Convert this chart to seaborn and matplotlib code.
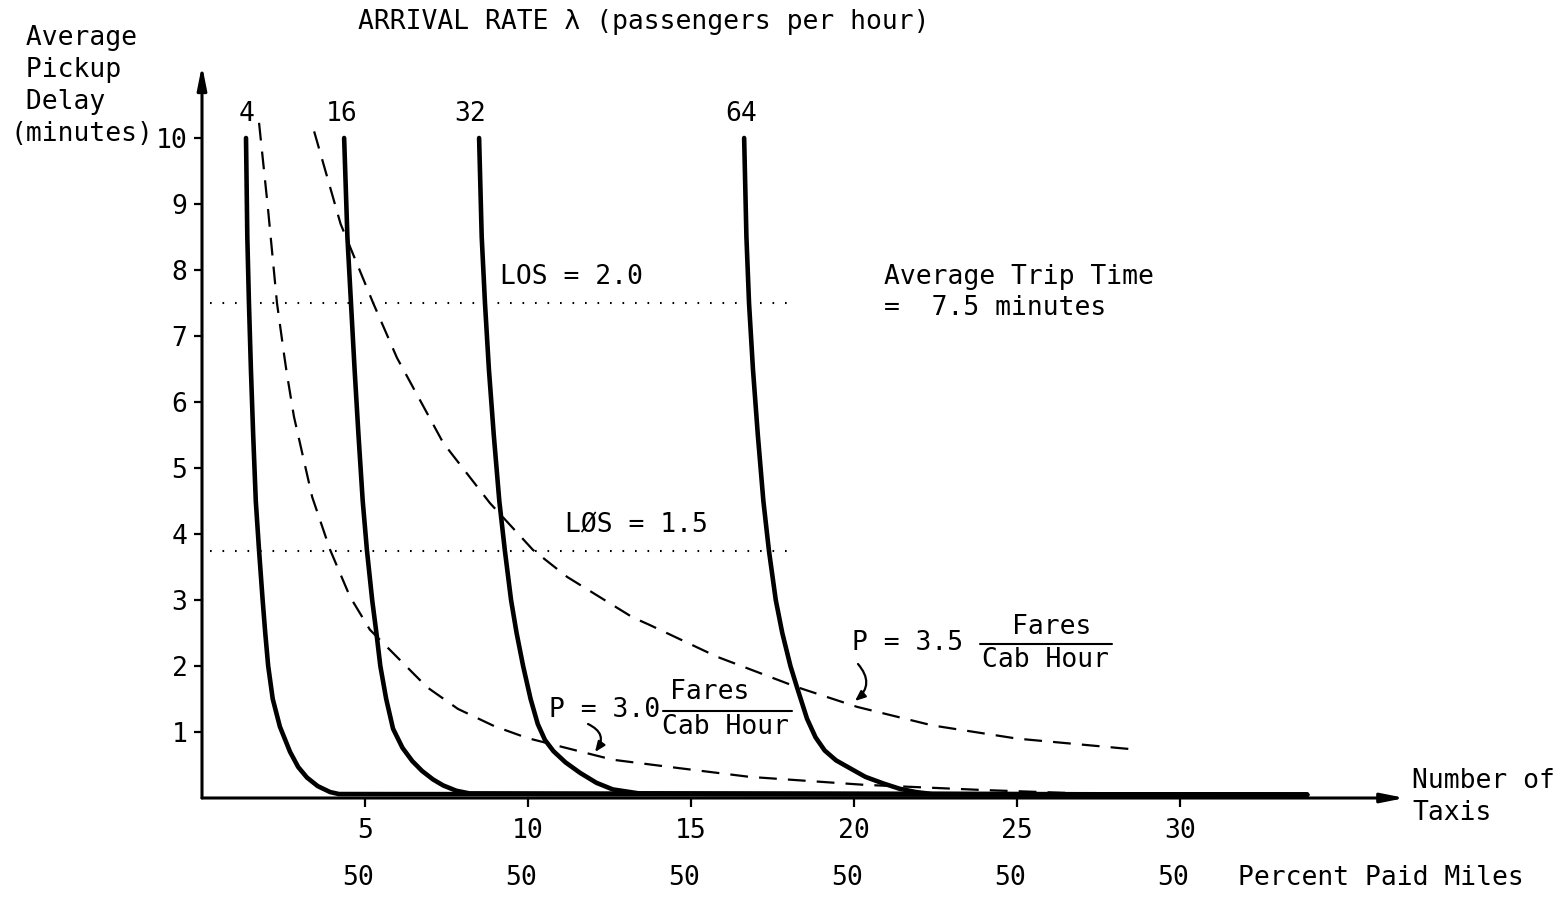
import matplotlib
matplotlib.use("Agg")
import matplotlib.pyplot as plt
import numpy as np
import pandas as pd
import seaborn as sns

# ---------------- data ----------------
arrival_rates = ["4", "16", "32", "64"]

taxis_4 = [1.35, 1.39, 1.44, 1.50, 1.57, 1.65, 1.75, 1.86, 1.94, 2.03, 2.17, 2.39,
           2.70, 2.95, 3.22, 3.55, 3.93, 4.20, 33.9]
delay_4 = [10.0, 8.50, 7.50, 6.50, 5.50, 4.50, 3.75, 3.00, 2.50, 2.00, 1.50, 1.08,
           0.70, 0.47, 0.31, 0.18, 0.09, 0.06, 0.05]

taxis_16 = [4.36, 4.46, 4.57, 4.68, 4.80, 4.93, 5.06, 5.22, 5.35, 5.47, 5.65, 5.86,
            6.15, 6.45, 6.75, 7.09, 7.40, 7.80, 8.20, 33.9]
delay_16 = [10.0, 8.50, 7.50, 6.50, 5.50, 4.50, 3.75, 3.00, 2.50, 2.00, 1.50, 1.05,
            0.76, 0.56, 0.41, 0.28, 0.19, 0.11, 0.07, 0.05]

taxis_32 = [8.50, 8.58, 8.68, 8.80, 8.95, 9.12, 9.29, 9.48, 9.65, 9.85, 10.08, 10.30,
            10.52, 10.78, 11.15, 11.60, 12.10, 12.60, 13.40, 33.9]
delay_32 = [10.0, 8.50, 7.50, 6.50, 5.50, 4.50, 3.75, 3.00, 2.50, 2.00, 1.50, 1.12,
            0.88, 0.71, 0.54, 0.38, 0.23, 0.13, 0.07, 0.05]

taxis_64 = [16.63, 16.70, 16.78, 16.90, 17.05, 17.22, 17.39, 17.60, 17.80, 18.05,
            18.25, 18.56, 18.82, 19.10, 19.45, 19.88, 20.35, 20.90, 21.40, 21.90,
            22.40, 33.9]
delay_64 = [10.0, 8.50, 7.50, 6.50, 5.50, 4.50, 3.75, 3.00, 2.50, 2.00,
            1.68, 1.20, 0.92, 0.72, 0.57, 0.45, 0.32, 0.22, 0.14, 0.09,
            0.06, 0.05]

# constant-productivity curves (P in fares per cab hour)
taxis_p30 = [1.75, 2.02, 2.30, 2.52, 2.60, 2.82, 3.38, 3.93, 4.54, 5.15, 5.37, 6.90,
             7.85, 8.96, 9.97, 10.6, 12.6, 14.35, 16.8, 20.3, 24.0, 27.5]
delay_p30 = [10.23, 8.95, 7.50, 6.71, 6.44, 5.78, 4.56, 3.76, 3.05, 2.55, 2.44, 1.68,
             1.35, 1.09, 0.91, 0.83, 0.58, 0.47, 0.32, 0.20, 0.12, 0.06]

taxis_p35 = [3.44, 4.25, 5.25, 5.98, 6.30, 7.40, 8.83, 10.15, 11.2, 13.2, 13.74, 15.8,
             18.25, 20.1, 22.4, 25.0, 28.5]
delay_p35 = [10.10, 8.70, 7.50, 6.67, 6.38, 5.38, 4.47, 3.76, 3.35, 2.74, 2.62, 2.14,
             1.68, 1.38, 1.10, 0.90, 0.74]

# level-of-service lines
los_labels = ["LOS = 2.0", "LØS = 1.5"]
los_delay = [7.5, 3.75]
los_taxis_range = [0.25, 17.95]

x_ticks = [5, 10, 15, 20, 25, 30]
y_ticks = [1, 2, 3, 4, 5, 6, 7, 8, 9, 10]
percent_paid = [50, 50, 50, 50, 50, 50]

# ---------------- style ----------------
sns.set_style("white")
plt.rcParams["font.family"] = ["DejaVu Sans Mono", "DejaVu Sans"]
plt.rcParams["text.color"] = "black"
plt.rcParams["xtick.color"] = "black"
plt.rcParams["ytick.color"] = "black"
plt.rcParams["axes.labelcolor"] = "black"
FS = 19

W, H = 1564, 897
fig = plt.figure(figsize=(W / 100, H / 100), dpi=100)
fig.patch.set_facecolor("white")

# axes: x=0 at px 202, y=0 at px 798 ; 32.6 px / taxi, 66 px / minute
x0, y0, sx, sy = 202, 798, 32.6, 66.0
xmax, ymax = 36.9, 11.1
ax = fig.add_axes([x0 / W, (H - y0) / H, xmax * sx / W, ymax * sy / H])
ax.set_xlim(0, xmax)
ax.set_ylim(0, ymax)
for s in ax.spines.values():
    s.set_visible(False)

# solid curves (arrival rates)
solid = pd.concat([
    pd.DataFrame({"taxis": taxis_4, "delay": delay_4, "rate": "4"}),
    pd.DataFrame({"taxis": taxis_16, "delay": delay_16, "rate": "16"}),
    pd.DataFrame({"taxis": taxis_32, "delay": delay_32, "rate": "32"}),
    pd.DataFrame({"taxis": taxis_64, "delay": delay_64, "rate": "64"}),
])
sns.lineplot(data=solid, x="taxis", y="delay", units="rate", estimator=None,
             sort=False, color="black", lw=3.3, ax=ax, legend=False, clip_on=False)

# dashed productivity curves
for tx, dl in [(taxis_p30, delay_p30), (taxis_p35, delay_p35)]:
    sns.lineplot(x=tx, y=dl, sort=False, estimator=None, color="black", lw=1.6,
                 linestyle=(0, (8, 5)), ax=ax, legend=False, clip_on=False)

# dotted LOS lines
ax.hlines(los_delay, los_taxis_range[0], los_taxis_range[1], colors="black",
          linestyles=[(0, (0.8, 5.2))], lw=1.5)

# axes arrows
arrow_kw = dict(arrowstyle="-|>,head_length=1.4,head_width=0.28", color="black",
                shrinkA=0, shrinkB=0)
ax.annotate("", xy=(1, 0), xytext=(0, 0), xycoords="axes fraction",
            textcoords="axes fraction", arrowprops=dict(lw=2.2, **arrow_kw))
ax.annotate("", xy=(0, 1), xytext=(0, 0), xycoords="axes fraction",
            textcoords="axes fraction", arrowprops=dict(lw=2.2, **arrow_kw))

# ticks
ax.set_xticks(x_ticks)
ax.set_xticklabels([str(v) for v in x_ticks])
ax.set_yticks(y_ticks)
ax.set_yticklabels([str(v) for v in y_ticks])
ax.tick_params(axis="x", bottom=True, direction="out", length=6.5, width=1.6,
               pad=8, labelsize=FS, colors="black")
ax.tick_params(axis="y", left=True, direction="out", length=5.5, width=1.6,
               pad=5, labelsize=FS, colors="black")
ax.set_xlabel("")
ax.set_ylabel("")


def px(xp, yp):
    """pixel position in the image -> data coordinates (for annotation layout)"""
    return (xp - x0) / sx, (y0 - yp) / sy


# percent paid miles row
for xv, pv in zip(x_ticks, percent_paid):
    ax.text(xv - 0.2, px(0, 878)[1], str(pv), ha="center", va="center",
            fontsize=FS, clip_on=False)

# curve labels
for lab, xp in zip(arrival_rates, [247, 342, 470, 741]):
    ax.text(*px(xp, 114), lab, ha="center", va="center", fontsize=FS)

# LOS labels
ax.text(*px(500, 277), los_labels[0], ha="left", va="center", fontsize=FS)
ax.text(*px(565, 525), los_labels[1], ha="left", va="center", fontsize=FS)

# trip time note
ax.text(*px(884, 277), "Average Trip Time", ha="left", va="center", fontsize=FS)
ax.text(*px(884, 308), "=  7.5 minutes", ha="left", va="center", fontsize=FS)

# P = 3.0 label
ax.text(*px(549, 710), "P = 3.0", ha="left", va="center", fontsize=FS)
ax.text(*px(710, 692), "Fares", ha="center", va="center", fontsize=FS)
ax.text(*px(726, 727), "Cab Hour", ha="center", va="center", fontsize=FS)
fx0, fy = px(663, 711)
fx1, _ = px(792, 711)
ax.plot([fx0, fx1], [fy, fy], color="black", lw=1.5, clip_on=False)
ax.annotate("", xy=px(595, 752), xytext=px(588, 724),
            arrowprops=dict(arrowstyle="-|>,head_length=0.6,head_width=0.25",
                            color="black", lw=1.6, shrinkA=0, shrinkB=0,
                            connectionstyle="arc3,rad=-0.6"))

# P = 3.5 label
ax.text(*px(852, 643), "P = 3.5", ha="left", va="center", fontsize=FS)
ax.text(*px(1052, 627), "Fares", ha="center", va="center", fontsize=FS)
ax.text(*px(1046, 660), "Cab Hour", ha="center", va="center", fontsize=FS)
fx0, fy = px(980, 644)
fx1, _ = px(1112, 644)
ax.plot([fx0, fx1], [fy, fy], color="black", lw=1.5, clip_on=False)
ax.annotate("", xy=px(855, 701), xytext=px(858, 664),
            arrowprops=dict(arrowstyle="-|>,head_length=0.6,head_width=0.25",
                            color="black", lw=1.6, shrinkA=0, shrinkB=0,
                            connectionstyle="arc3,rad=-0.5"))


# texts outside the axes (figure pixel positions)
def ft(xp, yp, s, **kw):
    fig.text(xp / W, 1 - yp / H, s, fontsize=FS, va="center", **kw)


ft(358, 22, "ARRIVAL RATE λ (passengers per hour)", ha="left")
ft(10, 38, " Average", ha="left")
ft(10, 70, " Pickup", ha="left")
ft(10, 102, " Delay", ha="left")
ft(10, 134, "(minutes)", ha="left")
ft(1412, 781, "Number of", ha="left")
ft(1412, 813, "Taxis", ha="left")
ft(1238, 878, "Percent Paid Miles", ha="left")

fig.savefig("out.png", dpi=100, facecolor="white")
